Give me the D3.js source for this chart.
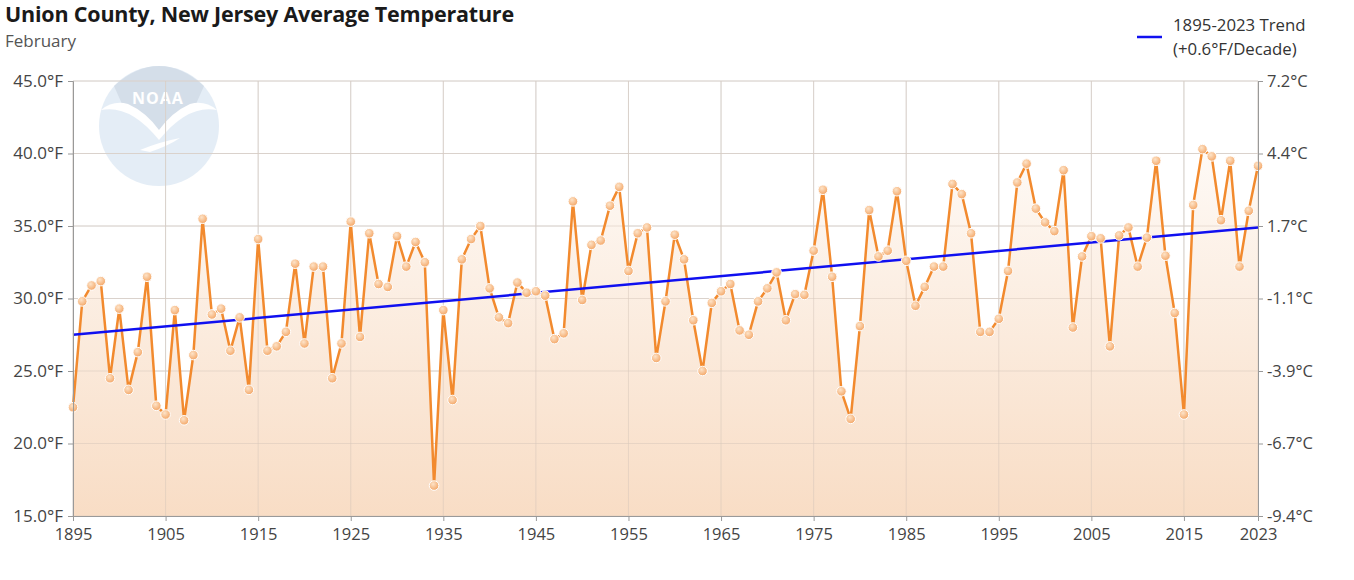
<!DOCTYPE html>
<html>
<head>
<meta charset="utf-8">
<script src="https://cdn.jsdelivr.net/npm/d3@7"></script>
<style>
  body { margin: 0; background: #fff; font-family: "Open Sans", "Noto Sans", sans-serif; }
</style>
</head>
<body>
<svg id="chart" width="1354" height="580"></svg>
<script>
// February average temperature, Union County NJ (°F)
var years = d3.range(1895, 2024);
var temps = [
  22.5, 29.8, 30.9, 31.2, 24.5, 29.3, 23.7, 26.3, 31.5, 22.6,
  22.0, 29.2, 21.6, 26.1, 35.5, 28.9, 29.3, 26.4, 28.7, 23.7,
  34.1, 26.4, 26.7, 27.7, 32.4, 26.9, 32.2, 32.2, 24.5, 26.9,
  35.3, 27.35, 34.5, 31.0, 30.8, 34.3, 32.2, 33.9, 32.5, 17.1,
  29.2, 23.0, 32.7, 34.1, 35.0, 30.7, 28.7, 28.3, 31.1, 30.4,
  30.5, 30.2, 27.2, 27.6, 36.7, 29.9, 33.7, 34.0, 36.4, 37.7,
  31.9, 34.5, 34.9, 25.9, 29.8, 34.4, 32.7, 28.5, 25.0, 29.7,
  30.5, 31.0, 27.8, 27.5, 29.8, 30.7, 31.8, 28.5, 30.3, 30.25,
  33.3, 37.5, 31.5, 23.6, 21.7, 28.1, 36.1, 32.9, 33.3, 37.4,
  32.6, 29.5, 30.8, 32.2, 32.2, 37.9, 37.2, 34.5, 27.7, 27.7,
  28.6, 31.9, 38.0, 39.3, 36.2, 35.25, 34.65, 38.85, 28.0, 32.9,
  34.3, 34.15, 26.7, 34.35, 34.9, 32.2, 34.2, 39.5, 32.95, 29.0,
  22.0, 36.45, 40.3, 39.8, 35.4, 39.5, 32.2, 36.05, 39.15
];
var trendYears = [1895, 2023];
var trendTemps = [27.5, 34.9];
var xTicks = [1895, 1905, 1915, 1925, 1935, 1945, 1955, 1965, 1975, 1985, 1995, 2005, 2015, 2023];
var yTicks = [15, 20, 25, 30, 35, 40, 45];

var svg = d3.select("#chart");
var margin = {left: 73, right: 96, top: 81, bottom: 64};
var W = 1354, H = 580;

var x = d3.scaleLinear().domain([1895, 2023]).range([margin.left, W - margin.right]);
var y = d3.scaleLinear().domain([15, 45]).range([H - margin.bottom, margin.top]);

var defs = svg.append("defs");
var grad = defs.append("linearGradient").attr("id", "fillGrad")
  .attr("gradientUnits", "userSpaceOnUse")
  .attr("x1", 0).attr("x2", 0).attr("y1", y(45)).attr("y2", y(15));
grad.append("stop").attr("offset", "0%").attr("stop-color", "#ffffff");
grad.append("stop").attr("offset", "100%").attr("stop-color", "#f8dbc2");

var dotGrad = defs.append("radialGradient").attr("id", "dotGrad")
  .attr("cx", "40%").attr("cy", "35%").attr("r", "65%");
dotGrad.append("stop").attr("offset", "0%").attr("stop-color", "#fde3c8");
dotGrad.append("stop").attr("offset", "100%").attr("stop-color", "#f4a869");

// title
svg.append("text").attr("x", 5).attr("y", 22)
  .attr("font-size", "21.5px").attr("font-weight", "bold").attr("fill", "#1a1a1a")
  .attr("letter-spacing", "-0.2px")
  .text("Union County, New Jersey Average Temperature");
svg.append("text").attr("x", 5).attr("y", 47)
  .attr("font-size", "17px").attr("fill", "#555")
  .text("February");

// noaa watermark
var logo = svg.append("g").attr("opacity", 0.6);
logo.append("circle").attr("cx", 159).attr("cy", 126).attr("r", 60).attr("fill", "#d3e2f1");
logo.append("path")
  .attr("d", "M114,86 Q136,66 159,66 Q182,66 204,86 L196,104 Q178,110 159,136 Q140,110 122,104 Z")
  .attr("fill", "#b9c9db");
logo.append("path")
  .attr("d", "M101,110 Q130,104 159,140 Q188,104 217,110 Q205,100 190,104 Q172,112 159,130 Q146,112 128,104 Q113,100 101,110 Z")
  .attr("fill", "#fff");
logo.append("path")
  .attr("d", "M140,150 Q159,142 180,138 Q168,146 150,152 Z")
  .attr("fill", "#fff");
logo.append("text").attr("x", 158).attr("y", 104).attr("text-anchor", "middle")
  .attr("font-size", "16px").attr("font-weight", "bold").attr("fill", "#fff")
  .attr("letter-spacing", "1px").text("NOAA");

// grid
svg.append("g").selectAll("line").data(yTicks).enter().append("line")
  .attr("x1", margin.left).attr("x2", W - margin.right)
  .attr("y1", function(d) { return y(d); }).attr("y2", function(d) { return y(d); })
  .attr("stroke", "#dcdcdc").attr("stroke-width", 1);
svg.append("g").selectAll("line").data(xTicks).enter().append("line")
  .attr("x1", function(d) { return x(d); }).attr("x2", function(d) { return x(d); })
  .attr("y1", margin.top).attr("y2", H - margin.bottom)
  .attr("stroke", "#dcdcdc").attr("stroke-width", 1);

// area + line
var pts = years.map(function(yr, i) { return {year: yr, t: temps[i]}; });
svg.append("path").datum(pts)
  .attr("fill", "url(#fillGrad)").attr("opacity", 0.95)
  .attr("d", d3.area().x(function(d) { return x(d.year); })
    .y0(y(15)).y1(function(d) { return y(d.t); }));

// redraw grid lines faintly over the fill
svg.append("g").selectAll("line").data(yTicks).enter().append("line")
  .attr("x1", margin.left).attr("x2", W - margin.right)
  .attr("y1", function(d) { return y(d); }).attr("y2", function(d) { return y(d); })
  .attr("stroke", "#d8c8bb").attr("stroke-opacity", 0.5);
svg.append("g").selectAll("line").data(xTicks).enter().append("line")
  .attr("x1", function(d) { return x(d); }).attr("x2", function(d) { return x(d); })
  .attr("y1", margin.top).attr("y2", H - margin.bottom)
  .attr("stroke", "#d8c8bb").attr("stroke-opacity", 0.5);

svg.append("path").datum(pts)
  .attr("fill", "none").attr("stroke", "#f28a2e").attr("stroke-width", 2.5)
  .attr("d", d3.line().x(function(d) { return x(d.year); }).y(function(d) { return y(d.t); }));

// trend
svg.append("line")
  .attr("x1", x(trendYears[0])).attr("y1", y(trendTemps[0]))
  .attr("x2", x(trendYears[1])).attr("y2", y(trendTemps[1]))
  .attr("stroke", "#1010f0").attr("stroke-width", 2.5);

svg.append("g").selectAll("circle").data(pts).enter().append("circle")
  .attr("cx", function(d) { return x(d.year); }).attr("cy", function(d) { return y(d.t); })
  .attr("r", 4.8).attr("fill", "url(#dotGrad)").attr("stroke", "#fff").attr("stroke-width", 1);

// axes
var fmtF = function(d) { return d.toFixed(1) + "°F"; };
var fmtC = function(d) { return ((d - 32) * 5 / 9).toFixed(1) + "°C"; };

var gl = svg.append("g").attr("transform", "translate(" + margin.left + ",0)")
  .call(d3.axisLeft(y).tickValues(yTicks).tickFormat(fmtF).tickSizeOuter(0).tickSize(5).tickPadding(5));
var gr = svg.append("g").attr("transform", "translate(" + (W - margin.right) + ",0)")
  .call(d3.axisRight(y).tickValues(yTicks).tickFormat(fmtC).tickSizeOuter(0).tickSize(5).tickPadding(4));
var gb = svg.append("g").attr("transform", "translate(0," + (H - margin.bottom) + ")")
  .call(d3.axisBottom(x).tickValues(xTicks).tickFormat(d3.format("d")).tickSizeOuter(0).tickSize(5).tickPadding(7));
[gl, gr, gb].forEach(function(g) {
  g.attr("font-size", null).attr("font-family", null);
  g.selectAll(".domain, .tick line").attr("stroke", "#999");
  g.selectAll(".tick text").attr("fill", "#444")
    .style("font-size", "16.5px").style("font-family", "'Open Sans', sans-serif");
});
gl.selectAll(".tick text").style("font-size", "17px");

// legend
svg.append("line").attr("x1", 1137).attr("x2", 1162).attr("y1", 37).attr("y2", 37)
  .attr("stroke", "#1010f0").attr("stroke-width", 2.5);
svg.append("text").attr("x", 1173).attr("y", 31).attr("font-size", "16.8px").attr("fill", "#333")
  .text("1895-2023 Trend");
svg.append("text").attr("x", 1173).attr("y", 55).attr("font-size", "16.8px").attr("fill", "#333")
  .text("(+0.6°F/Decade)");
</script>
</body>
</html>
